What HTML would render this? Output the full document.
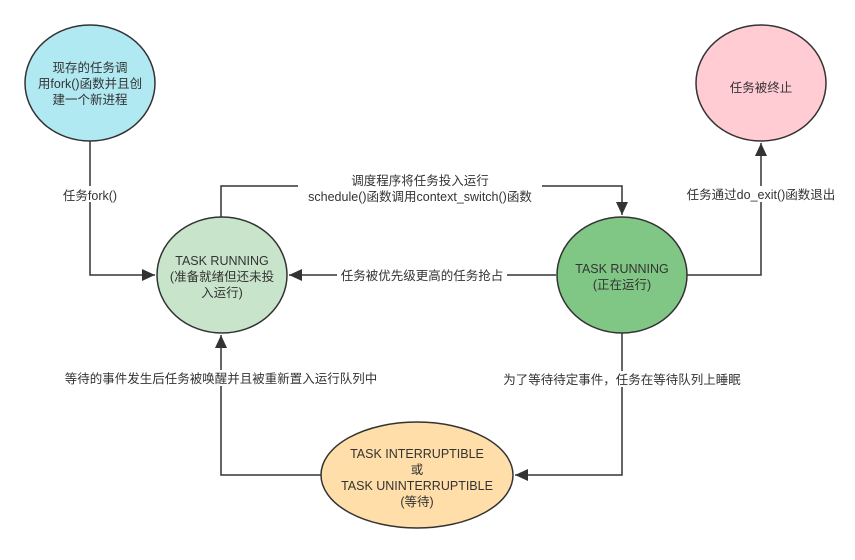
<!DOCTYPE html>
<html><head><meta charset="utf-8"><style>
html,body{margin:0;padding:0;background:#fff;}
svg text{font-family:"Liberation Sans","Noto Sans CJK SC",sans-serif;font-size:12.5px;fill:#333;}
</style></head><body>
<svg width="855" height="555" viewBox="0 0 855 555" xmlns="http://www.w3.org/2000/svg">
<defs><marker id="a" markerWidth="14" markerHeight="14" refX="13" refY="6" orient="auto" markerUnits="userSpaceOnUse"><path d="M0,0 L13,6 L0,12 Z" fill="#333"/></marker></defs>
<g fill="none" stroke="#333" stroke-width="1.5">
<path d="M90,141 V275 H155" marker-end="url(#a)"/>
<path d="M221,217 V186 H622 V215" marker-end="url(#a)"/>
<path d="M556,275 H289" marker-end="url(#a)"/>
<path d="M687,275 H761 V143" marker-end="url(#a)"/>
<path d="M622,333 V475 H515" marker-end="url(#a)"/>
<path d="M321,475 H221 V335" marker-end="url(#a)"/>
</g>
<g stroke="#333" stroke-width="1.5">
<ellipse cx="90" cy="83" rx="65" ry="58" fill="#b1e9f2"/>
<ellipse cx="222" cy="275" rx="65" ry="58" fill="#c8e5cc"/>
<ellipse cx="622" cy="275" rx="65" ry="58" fill="#80c684"/>
<ellipse cx="761" cy="83" rx="65" ry="58" fill="#ffccd4"/>
<ellipse cx="417" cy="475" rx="96" ry="53" fill="#ffdea9"/>
</g>
<g text-anchor="middle">
<text x="90" y="72">现存的任务调</text>
<text x="90" y="88">用fork()函数并且创</text>
<text x="90" y="104">建一个新进程</text>
<text x="222" y="265">TASK RUNNING</text>
<text x="222" y="281">(准备就绪但还未投</text>
<text x="222" y="297">入运行)</text>
<text x="622" y="273">TASK RUNNING</text>
<text x="622" y="289">(正在运行)</text>
<text x="761" y="92">任务被终止</text>
<text x="417" y="458">TASK INTERRUPTIBLE</text>
<text x="417" y="474">或</text>
<text x="417" y="490">TASK UNINTERRUPTIBLE</text>
<text x="417" y="506">(等待)</text>
</g>
<g text-anchor="middle">
<rect x="58" y="186" width="64" height="16" fill="#fff"/>
<text x="90" y="200">任务fork()</text>
<rect x="298" y="172" width="244" height="32" fill="#fff"/>
<text x="420" y="185">调度程序将任务投入运行</text>
<text x="420" y="201">schedule()函数调用context_switch()函数</text>
<rect x="337" y="267" width="170" height="16" fill="#fff"/>
<text x="422" y="280">任务被优先级更高的任务抢占</text>
<rect x="682" y="186" width="158" height="16" fill="#fff"/>
<text x="761" y="199">任务通过do_exit()函数退出</text>
<rect x="496" y="371" width="252" height="16" fill="#fff"/>
<text x="622" y="384">为了等待待定事件，任务在等待队列上睡眠</text>
<rect x="56" y="370" width="330" height="16" fill="#fff"/>
<text x="221" y="383">等待的事件发生后任务被唤醒并且被重新置入运行队列中</text>
</g>
</svg>
</body></html>
